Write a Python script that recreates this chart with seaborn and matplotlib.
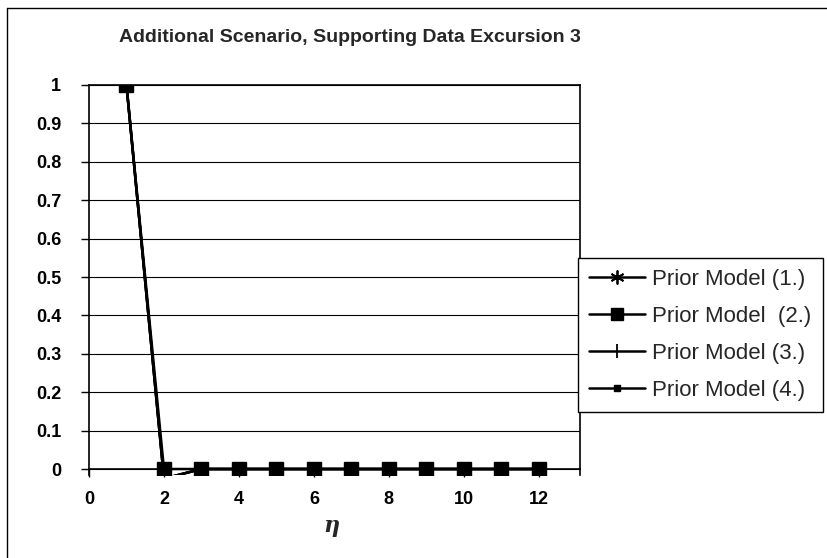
import matplotlib
matplotlib.use("Agg")
import matplotlib.pyplot as plt
from matplotlib.lines import Line2D
import seaborn as sns
import pandas as pd

sns.set_style("white")
plt.rcParams['font.family'] = ['Liberation Sans', 'DejaVu Sans']

# Data
eta = [1, 2, 3, 4, 5, 6, 7, 8, 9, 10, 11, 12]
model1 = [1, -0.025, 0, 0, 0, 0, 0, 0, 0, 0, 0, 0]
model2 = [1, 0, 0, 0, 0, 0, 0, 0, 0, 0, 0, 0]
model3 = [1, -0.025, 0, 0, 0, 0, 0, 0, 0, 0, 0, 0]
model4 = [1, -0.025, 0, 0, 0, 0, 0, 0, 0, 0, 0, 0]
labels = ["Prior Model (1.)", "Prior Model  (2.)", "Prior Model (3.)", "Prior Model (4.)"]
xticks = [0, 2, 4, 6, 8, 10, 12]
yticks = [0, 0.1, 0.2, 0.3, 0.4, 0.5, 0.6, 0.7, 0.8, 0.9, 1]
ytick_labels = ["0", "0.1", "0.2", "0.3", "0.4", "0.5", "0.6", "0.7", "0.8", "0.9", "1"]
title = "Additional Scenario, Supporting Data Excursion 3"

fig = plt.figure(figsize=(8.28, 5.58), dpi=100)
ax = fig.add_axes([89/828, 1-475/558, (580-89)/828, (475-85)/558])

styles = [
    (model1, (6, 2, 0), 9, 1.2),
    (model3, '|', 9, 1.2),
    (model4, 's', 4, 1.0),
    (model2, 's', 10, 1.0),
]
for vals, mk, ms, mew in styles:
    df = pd.DataFrame({"eta": eta, "p": vals})
    sns.lineplot(data=df, x="eta", y="p", ax=ax, color="black", linewidth=1.8,
                 marker=mk, markersize=ms, markeredgecolor="black",
                 markerfacecolor="black", markeredgewidth=mew)

for s in ['left', 'right', 'top', 'bottom']:
    ax.spines[s].set_color('black')
    ax.spines[s].set_linewidth(1.2)
ax.spines['bottom'].set_position(('data', 0))

ax.set_xlim(0, 13.1)
ax.set_ylim(-0.0156, 1.0)
ax.set_xticks(xticks)
ax.set_yticks(yticks)
ax.set_yticklabels(ytick_labels)
ax.set_xticklabels([str(t) for t in xticks])
ax.xaxis.set_ticks_position('bottom')
ax.yaxis.set_ticks_position('left')
ax.tick_params(axis='both', colors='black', direction='out', length=6, width=1, labelsize=13)
ax.tick_params(axis='y', pad=14)
ax.tick_params(axis='x', pad=10)
for lab in ax.get_xticklabels() + ax.get_yticklabels():
    lab.set_fontweight('bold')
ax.grid(axis='y', color='black', linewidth=0.8)
ax.set_axisbelow(True)
ax.set_xlabel("")
ax.set_ylabel("")

# Legend
handles = [
    Line2D([], [], color='black', lw=1.8, marker=(6, 2, 0), markersize=10, markeredgewidth=1.3),
    Line2D([], [], color='black', lw=1.8, marker='s', markersize=9),
    Line2D([], [], color='black', lw=1.8, marker='|', markersize=10, markeredgewidth=1.3),
    Line2D([], [], color='black', lw=1.8, marker='s', markersize=4),
]
leg = fig.legend(handles, labels, loc='upper left', bbox_to_anchor=(578/828, 1-258/558),
                 frameon=True, fancybox=False, edgecolor='black', framealpha=1,
                 fontsize=16, handlelength=2.5, handletextpad=0.35, labelspacing=0.72,
                 borderpad=0.5, borderaxespad=0)
leg.get_frame().set_linewidth(1.0)

fig.text(350/828, 1-37/558, title, ha='center', va='center', fontsize=14, fontweight='bold')
fig.text(331/828, 1-526/558, "η", ha='center', va='center',
         fontsize=16, fontweight='bold', fontstyle='italic', family=['DejaVu Serif'])

# outer chart border (left and top edges)
fig.add_artist(Line2D([7/828, 7/828], [0, 1-8/558], transform=fig.transFigure, color='black', lw=1.0))
fig.add_artist(Line2D([7/828, 1], [1-8/558, 1-8/558], transform=fig.transFigure, color='black', lw=1.0))

fig.savefig("out.png", dpi=100)
